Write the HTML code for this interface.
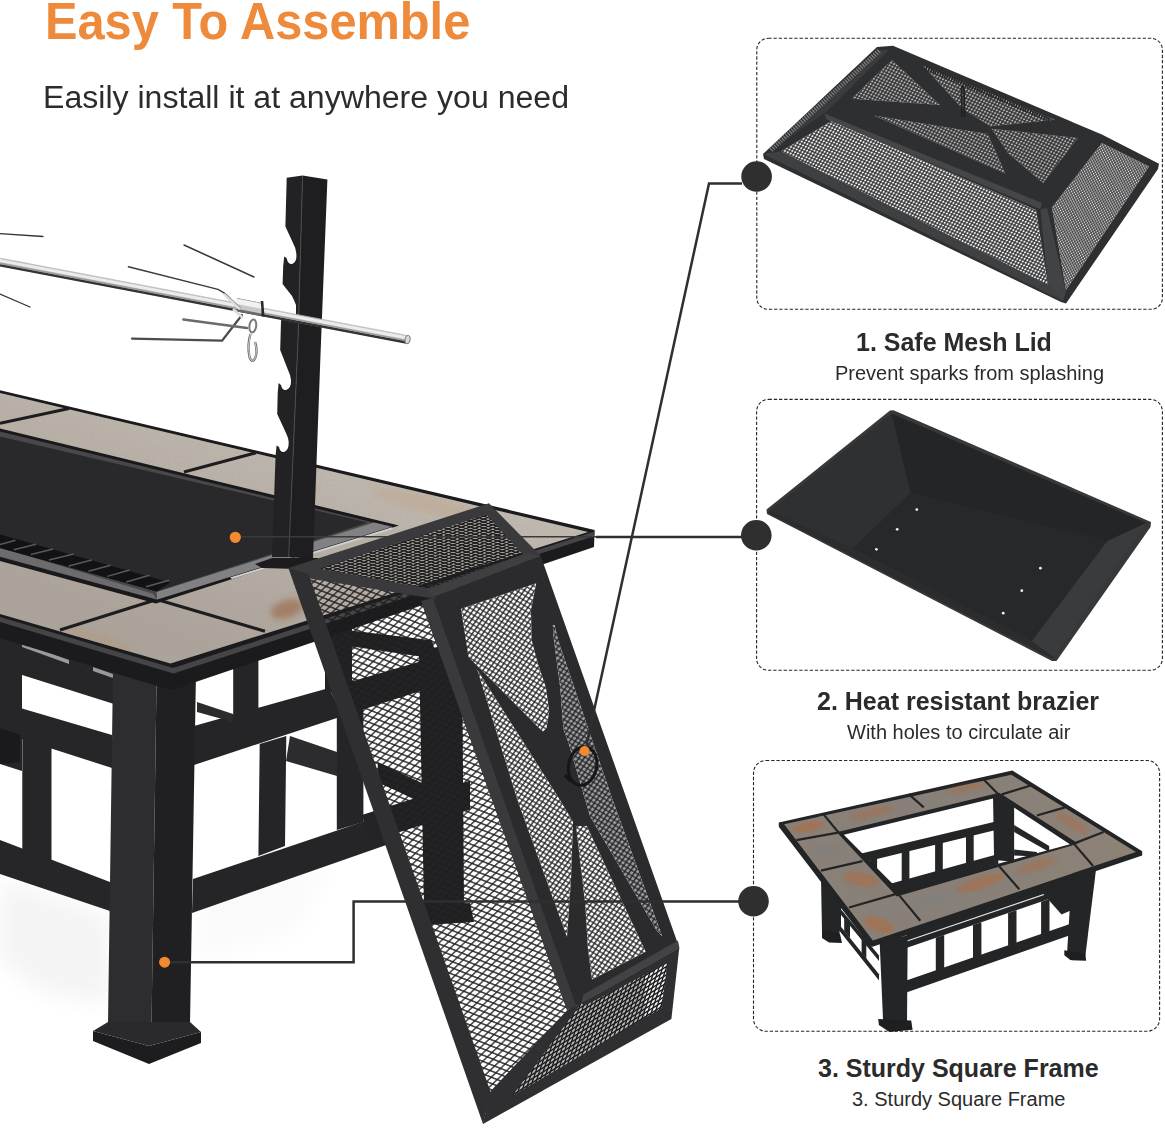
<!DOCTYPE html>
<html><head><meta charset="utf-8">
<style>
html,body{margin:0;padding:0;background:#fff;}
body{width:1165px;height:1129px;overflow:hidden;position:relative;font-family:"Liberation Sans",sans-serif;}
svg{position:absolute;left:0;top:0;}
.t{position:absolute;white-space:nowrap;line-height:1;}
#title{left:44.6px;top:-3.8px;font-size:51.3px;font-weight:bold;color:#ee8a3c;transform:scaleX(0.95);transform-origin:0 0;}
#sub{left:43px;top:81px;font-size:32.1px;color:#2c2c2c;}
.h{font-weight:bold;font-size:25px;color:#2b2b2b;}
.d{font-size:20px;color:#2b2b2b;}
</style></head><body>
<svg id="art" width="1165" height="1129" viewBox="0 0 1165 1129">
<!-- defs -->
<defs>
<linearGradient id="tileG" gradientUnits="userSpaceOnUse" x1="330" y1="400" x2="230" y2="660">
<stop offset="0" stop-color="#c4beb5"/><stop offset="0.45" stop-color="#b9b1a8"/><stop offset="1" stop-color="#aca49b"/>
</linearGradient>
<filter id="noise" x="0" y="0" width="100%" height="100%"><feTurbulence type="fractalNoise" baseFrequency="0.5" numOctaves="2" seed="3" result="n"/><feColorMatrix type="matrix" values="0 0 0 0 0.35  0 0 0 0 0.3  0 0 0 0 0.25  0.9 0 0 0 -0.35"/><feComposite in2="SourceGraphic" operator="in"/></filter>
<linearGradient id="tileT" x1="0" y1="0" x2="1" y2="0"><stop offset="0" stop-color="#8a8077"/><stop offset="0.5" stop-color="#878079"/><stop offset="1" stop-color="#8e8276"/></linearGradient>
<filter id="blur3" x="-30%" y="-30%" width="160%" height="160%"><feGaussianBlur stdDeviation="3"/></filter><filter id="blur12" x="-50%" y="-50%" width="200%" height="200%"><feGaussianBlur stdDeviation="12"/></filter><filter id="blur1" x="-30%" y="-30%" width="160%" height="160%"><feGaussianBlur stdDeviation="1.5"/></filter>
<pattern id="meshL" width="6.382" height="6.382" patternUnits="userSpaceOnUse" patternTransform="matrix(0.7250 -0.6887 0.9285 0.3714 0 0)"><path d="M0 0H6.382M0 6.382H6.382M0 0V6.382M6.382 0V6.382" stroke="#1e1e20" stroke-width="1.486" fill="none"/></pattern>
<pattern id="meshX" width="4.314" height="4.314" patternUnits="userSpaceOnUse" patternTransform="matrix(0.5812 -0.8137 0.8575 0.5145 0 0)"><path d="M0 0H4.314M0 4.314H4.314M0 0V4.314M4.314 0V4.314" stroke="#1e1e20" stroke-width="1.154" fill="none"/></pattern>
<pattern id="meshT" width="4.707" height="4.707" patternUnits="userSpaceOnUse" patternTransform="matrix(0.9409 -0.3387 0.9578 0.2873 0 0)"><path d="M0 0H4.707M0 4.707H4.707M0 0V4.707M4.707 0V4.707" stroke="#1e1e20" stroke-width="1.849" fill="none"/></pattern>
<pattern id="meshB" width="5.472" height="5.472" patternUnits="userSpaceOnUse" patternTransform="matrix(0.8499 -0.5269 0.3162 -0.9487 0 0)"><path d="M0 0H5.472M0 5.472H5.472M0 0V5.472M5.472 0V5.472" stroke="#1e1e20" stroke-width="2.111" fill="none"/></pattern>
<pattern id="meshS" width="3.129" height="3.129" patternUnits="userSpaceOnUse" patternTransform="matrix(0.5300 -0.8480 0.9119 0.4104 0 0)"><path d="M0 0H3.129M0 3.129H3.129M0 0V3.129M3.129 0V3.129" stroke="#262628" stroke-width="1.060" fill="none"/></pattern>
<pattern id="meshS2" width="2.325" height="2.325" patternUnits="userSpaceOnUse" patternTransform="matrix(0.8192 -0.5735 0.4472 0.8944 0 0)"><path d="M0 0H2.325M0 2.325H2.325M0 0V2.325M2.325 0V2.325" stroke="#262628" stroke-width="0.960" fill="none"/></pattern>
</defs>

<!-- table -->
<g id="table">
<!-- far-left skewer tines -->
<g stroke="#333" stroke-width="1.3" fill="none" stroke-linecap="round">
<path d="M0 233.6L43 236.5"/><path d="M0 294L30 307"/>
</g>
<g filter="url(#blur12)" opacity="0.045"><polygon points="0,880 110,915 110,1005 40,990 0,960" fill="#000"/><polygon points="196,900 330,860 300,930 196,960" fill="#000" opacity="0.5"/></g>
<!-- LEGS & LATTICE : left face -->
<g fill="#262628">
<polygon points="0,630 114,668 114,704 0,668"/>
<polygon points="0,702 112,735 112,768 0,732"/>
<polygon points="0,840 110,882 110,911 0,874"/>
<polygon points="0,640 22,647 22,771 0,764"/>
<polygon points="0,728 20,735 20,762 0,764" fill="#1a1a1c"/>
<polygon points="22.3,738 51.5,748 51.5,862 22.3,850"/>
</g>
<polygon points="22,643 69,660 69,664 22,647" fill="#9a9a9a"/>
<polygon points="93,667 113,674 113,678 93,671" fill="#9a9a9a"/>
<!-- right face lattice -->
<g fill="#252527">
<polygon points="194,726 329,688 343,716 194,765"/>
<polygon points="193,879 377,817 392,843 192,913"/>
<polygon points="233.2,660 258.4,652 258.4,712 233.2,718"/>
<polygon points="259.7,744 286.3,736 285,846 258.4,856"/>
<polygon points="336.8,716 363.4,708 363.4,822 336.8,830"/>
<polygon points="197,702 233,714 233,722 197,712" fill="#2c2c2e"/>
<polygon points="290,736 337,752 337,776 286,761" fill="#2c2c2e"/>
</g>
<!-- seen through lid -->
<g fill="#232325">
<polygon points="329,688 470,647 470,675 343,716"/>
<polygon points="361.8,815 470,780.7 470,809.6 369.7,841.7"/>
<polygon points="419,652 462,640 464,905 424,905"/>
<polygon points="418,905 470,903 474,922 426,925"/>
<polygon points="330,628 432,640.3 437,659 352,646.5 330,643"/>
<polygon points="325,628 352,620 352,686 325,693"/>
<polygon points="377.7,762 428.2,786 428.2,806 377.7,782"/>
</g>
<!-- front leg -->
<polygon points="113,670 156.5,684 151.5,1026 108,1024" fill="#2d2d2f"/>
<polygon points="156.5,684 196,672 190,1024 151.5,1026" fill="#202022"/>
<polygon points="93,1031 149,1046 201,1032 201,1043 149,1064 93,1041" fill="#1d1d1f"/>
<polygon points="93,1031 108,1022 190,1022 201,1032 149,1046" fill="#2a2a2c"/>
<!-- TABLE TOP rim -->
<polygon points="0,390.3 594.6,530 594,547 175,689 170,690 0,638" fill="#1b1b1d"/>
<polygon points="0,617 173,668 594.6,531.5 594.4,536 173.5,673.5 0,622" fill="#454547"/>
<!-- tile surface -->
<polygon points="0,392.9 588,532 170.5,663.5 0,614" fill="url(#tileG)"/>
<polygon points="0,392.9 588,532 170.5,663.5 0,614" fill="#000" filter="url(#noise)" opacity="0.5"/>
<!-- rust patches -->
<clipPath id="tileClip"><polygon points="0,392.9 588,532 170.5,663.5 0,614"/></clipPath>
<g clip-path="url(#tileClip)"><g filter="url(#blur3)"><ellipse cx="287" cy="609" rx="17" ry="9" fill="#9a6a48" opacity="0.65" transform="rotate(-18 287 609)"/>
<ellipse cx="95" cy="640" rx="40" ry="8" fill="#b09a86" opacity="0.6" transform="rotate(17 95 640)"/>
<ellipse cx="430" cy="505" rx="60" ry="9" fill="#c2a58c" opacity="0.45" transform="rotate(14 430 505)"/></g></g>
<!-- tile gaps -->
<g stroke="#1d1d1f" stroke-width="3.2" fill="none">
<path d="M69 408.5L0 423.3"/>
<path d="M256 452.8L184 472"/>
<path d="M152 601L60 630"/>
<path d="M157 599.5L265 631.3"/>
</g>
<!-- pit -->
<polygon points="0,428.5 399,525.5 156,603.5 0,561" fill="#19191b"/>
<polygon points="0,431.5 390,526.5 157,599.5 0,557" fill="#48484a"/>
<polygon points="157,599.5 392,526.8 374,522.5 156.6,592" fill="#818183"/>
<polygon points="230,577.5 392,527.2 393,529 232,579" fill="#d0d0d0"/>
<polygon points="0,547.5 153,593.8 157,599.5 0,556.5" fill="#6c6c6e"/>
<polygon points="0,436.5 367.6,522.5 156.6,591.5 0,548" fill="#29292b"/>
<!-- grate -->
<polygon points="0,534.5 170,582.5 156.6,591.5 0,548" fill="#121214"/>
<g stroke="#5a5a5c" stroke-width="1.5" fill="none">
<path d="M15.5 540.3L0 544.6M36 544.3L13.7 549.8M53.2 548.9L30.9 554.6M73.8 554L48.9 560M91.8 560L68.7 566M110.7 565.2L88.4 571.2M129.6 570L107.3 576.4M149.4 575.2L126.2 582M169.1 580.3L145.9 586.7"/>
</g>
</g>

<!-- post -->
<g id="post">
<!-- base plate -->
<polygon points="255,564 272,558 318,558 320,562 297,569 262,568" fill="#1c1c1e"/>
<!-- side plate with hooks -->
<path d="M286.7 177.7 L302.6 175.6 L298 340 L288.7 557 L272 557
L275.6 455 L276.6 445.5 L279 447 Q280 452.5 284 452 Q289 450 288.7 442 Q288.5 438 286 433 L277.2 414 L277.7 393 L278.6 383 L281 385 Q282 390.5 286 390 Q291.5 388 291 380 Q290.5 375 288 370
L280.2 350 L281 322 L282 313 L284.5 315 Q285.5 320 289 320 L296 320 L296 305 Q294 300 292 296 L282.6 284 L283.2 266 L284.2 256.5 L286.5 258 Q288 264.5 292 264 Q297 262 296.4 254 Q296 248 293 243 L285.4 226.4 Z" fill="#222224"/>
<!-- front face -->
<polygon points="302.6,175.6 327.4,179.5 320.3,360 313,559 288.7,557 298,340" fill="#1e1e20"/>
<path d="M302.6 176 L298 340 L288.7 557" stroke="#4a4a4c" stroke-width="1" fill="none"/>
</g>
<g id="rod">
<!-- fork tines -->
<g stroke="#3a3a3a" stroke-width="1.4" fill="none" stroke-linecap="round" stroke-linejoin="round">
<path d="M184 245L254 277"/>
<path d="M128.4 266.8L218 289.4Q228 294 234 305"/>
<path d="M132 338.6L222 340.7L242 315" stroke="#4c4c4c" stroke-width="2.2"/>
</g>
<path d="M183.4 319.5L247 328" stroke="#6a6a6a" stroke-width="2.6" fill="none" stroke-linecap="round"/>
<!-- rod -->
<path d="M0 262.2L407.6 339.6" stroke="#c6c6c6" stroke-width="8" fill="none"/>
<path d="M0 265.3L407.6 342.7" stroke="#333" stroke-width="2.4" fill="none"/>
<path d="M0 263.4L407.6 340.8" stroke="#9c9c9c" stroke-width="1.6" fill="none"/>
<path d="M0 260.6L407.6 338" stroke="#ececec" stroke-width="2.8" fill="none"/>
<path d="M0 258.1L407.6 335.5" stroke="#b5b5b5" stroke-width="0.7" fill="none"/>
<ellipse cx="407.6" cy="339.6" rx="2.6" ry="4.3" fill="#d8d8d8" stroke="#777" stroke-width="0.9" transform="rotate(10 407.6 339.6)"/>
<!-- collar -->
<path d="M236 304.5L262 309.6" stroke="#6a6a6a" stroke-width="13" fill="none"/>
<path d="M236 303.3L262 308.4" stroke="#c8c8c8" stroke-width="10.5" fill="none"/>
<path d="M236 301.3L262 306.4" stroke="#f2f2f2" stroke-width="5" fill="none"/>
<path d="M262 301L263.2 316.5" stroke="#2a2a2a" stroke-width="2.6" fill="none"/>
<path d="M224 294L240 309M243 318L233 309" stroke="#dcdcdc" stroke-width="2.6" fill="none"/>
<path d="M224 294L240 309" stroke="#777" stroke-width="0.8" fill="none" transform="translate(0.8 -1.2)"/>
<!-- hook -->
<g fill="none">
<ellipse cx="252.8" cy="326" rx="3.4" ry="6.5" stroke="#7a7a7a" stroke-width="2" transform="rotate(8 252.8 326)"/>
<path d="M250.5 334Q247 345 249.5 357Q252.5 365 255.8 356.5Q257.5 349 255 342" stroke="#6e6e6e" stroke-width="2.4"/>
<path d="M250.5 334Q247 345 249.5 357Q252.5 365 255.8 356.5Q257.5 349 255 342" stroke="#d8d8d8" stroke-width="0.9"/>
</g>
</g>

<!-- lid -->
<g id="lid">
<!-- left panel mesh -->
<polygon points="300,572 436,600 576,1006 488,1112" fill="url(#meshL)"/>
<!-- top panel mesh -->
<polygon points="313.6,568.8 487.2,513.4 525.2,554.2 428.9,589.2" fill="#222224" opacity="0.18"/>
<polygon points="313.6,568.8 487.2,513.4 525.2,554.2 428.9,589.2" fill="url(#meshT)"/>
<!-- bottom trapezoid mesh -->
<polygon points="502,1104 578,1004 645,975 645,1021" fill="#2a2a2c" opacity="0.3"/>
<polygon points="502,1104 578,1004 669,962 664,1009" fill="url(#meshB)"/>
<!-- X panel solid -->
<polygon points="421,601 433.8,597 540.8,556.1 679.3,947.7 581.5,1003 567.1,1010.3" fill="#2b2b2d"/>
<polygon points="581.5,1003 679.3,947.7 678,940.5 583.5,994.5" fill="#434345"/>
<!-- X panel openings -->
<g fill="#fff">
<polygon id="o1" points="461,608.7 536.2,583.2 531,610 531.6,640 538,664 546,687.8 549.2,711.7 546.5,728 543,731.5 538,727 468.5,657"/>
<polygon id="o2" points="476.6,668.7 528.4,750 560,800 573,822 571,880 567,937 517.4,800 478,672"/>
<polygon id="o3" points="552.8,625.3 554.5,625 558,640 588.4,729.3 612.6,800 662,936 657,931 590,816 568.3,742 563.5,729.3 560.3,687.8 554,640"/>
<polygon id="o4" points="576,826 586.8,826 645.7,951.8 592,979.5 588,950 585.2,904"/>
</g>
<use href="#o3" fill="#9a9a9c"/>
<g fill="url(#meshX)">
<use href="#o1"/><use href="#o2"/><use href="#o3"/><use href="#o4"/>
</g>
<!-- FRAME -->
<g fill="#3a3a3c">
<!-- top panel bars -->
<polygon points="288.4,568 489,503.2 488,514 314,570.5"/>
<polygon points="489,503.2 540.8,556.1 528,560 483,511"/>
<!-- TL-NL bar -->
<polygon points="288.4,568 314,567.5 429,588.5 436,599 312,579"/>
<polygon points="427,589.5 525,553.5 540.8,556.1 433.8,597" fill="#3f3f41"/>
</g>
<g fill="#2f2f31">
<!-- left bar -->
<polygon points="288.4,568 308.5,574 491,1093 483,1124"/>
<!-- bottom rim bars -->
<polygon points="483,1124 671.4,1019 665,1006 507,1099 492,1090"/>
<polygon points="679.3,947.7 671.4,1019 661,1012 668,958"/>
<polygon points="567.1,1010.3 581.5,1003 508.4,1101 483,1124 490.9,1090.7"/>
<polygon points="581.5,1003 679.3,947.7 670,962 584,1006"/>
</g>
<polygon points="421,601 433,598.2 576,1005.8 567.1,1010.3" fill="#3a3a3c"/>
<!-- ring handle -->
<ellipse cx="582.6" cy="766" rx="14" ry="19.5" fill="none" stroke="#161618" stroke-width="3" transform="rotate(12 582.6 766)"/>
<path d="M565 775L571 781" stroke="#161618" stroke-width="3.5" fill="none"/>
</g>

<!-- thumb1 -->
<g fill="none" stroke="#262626" stroke-width="1.1" stroke-dasharray="3.3 1.9">
<rect x="756.8" y="38.3" width="405.6" height="271" rx="11.5"/>
<rect x="756.6" y="399.4" width="405.8" height="270.9" rx="12"/>
<rect x="753.5" y="760.5" width="406.1" height="270.8" rx="12.5"/>
</g>
<g id="thumb1">
<!-- silhouette/frame -->
<polygon points="763,153.9 877,47 893,45.7 1101.9,134.6 1159,163.7 1158,169 1066,303.5 1061,302 764,159" fill="#2e2f31"/>
<!-- left sliver slats -->
<polygon points="768,152 877,50 889,50 826,112" fill="#3a3b3d"/>
<path d="M771 150L880 50" stroke="#8a8a8a" stroke-width="5" stroke-dasharray="1 1.6" fill="none"/>
<!-- front panel mesh -->
<g fill="#f6f6f6"><polygon id="t1f" points="781,151.5 831.5,121 1036,210 1048,285"/></g>
<g fill="url(#meshS)"><use href="#t1f"/></g>
<!-- right panel mesh -->
<g fill="#f6f6f6"><polygon id="t1r" points="1052,207.5 1101.9,143 1149,166.5 1066,290"/></g>
<g fill="url(#meshS2)"><use href="#t1r"/></g>
<!-- top openings -->
<g fill="#b4b4b4">
<polygon id="t1a" points="851.7,98.7 891.9,60.1 940,104.9"/>
<polygon id="t1b" points="923.3,65.8 1054.7,119.8 990.3,126.3 962,108.2"/>
<polygon id="t1c" points="873.9,115.5 987.7,134 1005.2,173.4"/>
<polygon id="t1d" points="991.6,128.8 1077.8,137.9 1043.1,182.9 1008.3,153.3"/>
</g>
<g fill="url(#meshS)"><use href="#t1a"/><use href="#t1b"/><use href="#t1c"/><use href="#t1d"/></g>
<!-- back slats strip -->
<path d="M926 68L1050 120" stroke="#222" stroke-width="4.5" stroke-dasharray="1.3 1.2" fill="none"/>
<!-- front bar highlight -->
<polygon points="824.5,113.5 1042,203 1040,209 826,119" fill="#454648"/>
<polygon points="763,154 781,151.5 1048,285 1063,301" fill="#3f4042"/>
<polygon points="1040.4,209.5 1047,208 1066,292 1063,301 1048,285" fill="#424345"/>
<!-- handle -->
<path d="M962 117L961.5 90Q962 82 964 90L964.5 117" stroke="#222" stroke-width="1.8" fill="none"/>
</g>

<!-- thumb2 -->
<g id="thumb2">
<polygon points="766.5,509.6 890,410.4 893.5,410.2 1151,521.9 1150.5,527 1056.5,661 1052,661 767,514" fill="#37383a"/>
<!-- left wall -->
<polygon points="769.5,510.5 891.5,413.5 910.5,493.1 852.6,548.2" fill="#2f3032"/>
<!-- back wall -->
<polygon points="891.5,413.5 1146.5,523 1107.1,541.2 910.5,493.1" fill="#242527"/>
<!-- right wall -->
<polygon points="1146.5,523 1054,657 1031.6,641.3 1107.1,541.2" fill="#3a3b3d"/>
<!-- floor -->
<polygon points="852.6,548.2 910.5,493.1 1107.1,541.2 1031.6,641.3" fill="#27282a"/>
<!-- front wall top -->
<polygon points="769.5,510.5 852.6,548.2 1031.6,641.3 1054,657 1052,658.5 768,513" fill="#2b2c2e"/>
<g fill="#f0f0f0">
<circle cx="916.8" cy="509.6" r="1.4"/><circle cx="897.2" cy="529.3" r="1.4"/><circle cx="876.4" cy="549.3" r="1.4"/>
<circle cx="1040.4" cy="568.2" r="1.4"/><circle cx="1021.8" cy="590.7" r="1.4"/><circle cx="1003.2" cy="613.2" r="1.4"/>
</g>
</g>

<!-- thumb3 -->
<g id="thumb3">
<polygon points="993.0,795.1 1014.1,799.3 1014.1,861.8 994.1,860.1" fill="#242527"/>
<polygon points="861.3,853.4 994.8,821.8 994.8,830.2 865.6,861.8" fill="#242527"/>
<polygon points="891.2,883.6 998.3,854.1 998.3,863.9 893.6,893.4" fill="#242527"/>
<polygon points="901.7,850.5 909.4,848.7 909.4,890.4 901.7,892.6" fill="#242527"/>
<polygon points="935.1,842.6 942.8,840.8 942.8,881.0 935.1,883.2" fill="#242527"/>
<polygon points="966.0,835.2 973.7,833.5 973.7,872.3 966.0,874.4" fill="#242527"/>
<polygon points="870.1,858.3 877.1,856.9 877.1,875.9 870.1,868.8" fill="#242527"/>
<polygon points="1014.1,825.0 1049.2,846.0 1049.2,852.0 1014.1,832.0" fill="#242527"/>
<polygon points="1014.1,849.5 1036.9,852.0 1036.9,856.6 1014.1,855.5" fill="#242527"/>
<polygon points="821.0,878.0 839.6,886.0 839.6,935.0 822.0,932.0" fill="#242527"/>
<polygon points="822.0,930.0 840.0,934.0 842.0,943.0 829.0,942.5 822.0,938.0" fill="#1e1f21"/>
<polygon points="830.8,897.1 879.0,955.6 879.0,961.0 830.8,902.5" fill="#242527"/>
<polygon points="830.8,913.9 879.0,974.2 879.0,980.5 830.8,920.0" fill="#242527"/>
<polygon points="844.2,915.0 850.0,922.0 850.0,938.0 844.2,931.0" fill="#242527"/>
<polygon points="861.6,936.0 866.3,942.0 866.3,959.0 861.6,953.0" fill="#242527"/>
<polygon points="836.0,895.0 841.0,901.0 841.0,930.0 836.0,924.0" fill="#242527"/>
<polygon points="1072.0,872.4 1095.9,870.6 1085.4,955.2 1067.1,952.4" fill="#242527"/>
<polygon points="1064.3,950.3 1085.4,953.8 1086.1,960.8 1070.3,960.1 1064.3,955.2" fill="#1e1f21"/>
<polygon points="906.3,932.8 1073.8,876.6 1073.8,890.6 906.3,947.9" fill="#242527"/>
<path d="M906.3 941.2L1073.8 884.3" stroke="#e8e8e8" stroke-width="1.1" fill="none"/>
<polygon points="906.3,980.5 1069.2,924.3 1069.2,935.6 906.3,992.4" fill="#242527"/>
<polygon points="935.8,937.8 944.2,935.0 944.2,971.1 935.8,973.9" fill="#242527"/>
<polygon points="973.0,925.0 981.4,922.2 981.4,958.4 973.0,961.2" fill="#242527"/>
<polygon points="1008.1,913.0 1016.5,910.2 1016.5,946.4 1008.1,949.2" fill="#242527"/>
<polygon points="1041.1,901.7 1049.5,898.9 1049.5,935.1 1041.1,937.9" fill="#242527"/>
<polygon points="1036.9,886.4 1073.8,881.1 1077.3,907.5 1061.5,914.5" fill="#242527"/>
<polygon points="879.6,940.8 907.7,935.6 907.0,1021.6 883.1,1021.6" fill="#242527"/>
<polygon points="878.2,1019.1 911.2,1020.5 912.6,1029.7 889.4,1032.1 878.9,1025.1" fill="#1e1f21"/>
<path d="M778.8 822.5 L1012.3 770.5 L1142.2 851.3 L1142.2 855.5 L872.6 946.8 L870.1 946.1 L778.8 826.7Z M843.8 834.8 L998.3 797.2 L1069.9 844.3 L899.3 890.6Z" fill="#232426" fill-rule="evenodd"/>
<path d="M784.1 824.3 L1011.3 774.7 L1135.9 852.0 L872.9 940.5Z M836.8 832.3 L999.3 792.7 L1078.3 843.6 L896.8 896.6Z" fill="url(#tileT)" fill-rule="evenodd"/>
<g filter="url(#blur1)"><ellipse cx="808.7" cy="826.7" rx="16" ry="4.5" fill="#b06a3c" opacity="0.6" transform="rotate(-12 808.7 826.7)"/>
<ellipse cx="871.9" cy="812.7" rx="22" ry="4.5" fill="#b06a3c" opacity="0.4" transform="rotate(-12 871.9 812.7)"/>
<ellipse cx="861.3" cy="879.4" rx="18" ry="7" fill="#b06a3c" opacity="0.5" transform="rotate(10 861.3 879.4)"/>
<ellipse cx="878.9" cy="925.0" rx="16" ry="7" fill="#b06a3c" opacity="0.55" transform="rotate(20 878.9 925.0)"/>
<ellipse cx="980.7" cy="882.9" rx="26" ry="6" fill="#b06a3c" opacity="0.5" transform="rotate(-18 980.7 882.9)"/>
<ellipse cx="1036.9" cy="865.3" rx="20" ry="5" fill="#b06a3c" opacity="0.4" transform="rotate(-18 1036.9 865.3)"/>
<ellipse cx="1072.0" cy="823.2" rx="18" ry="5" fill="#b06a3c" opacity="0.4" transform="rotate(30 1072.0 823.2)"/>
<ellipse cx="966.7" cy="788.1" rx="20" ry="4" fill="#b06a3c" opacity="0.4" transform="rotate(-12 966.7 788.1)"/>
<ellipse cx="826.2" cy="851.3" rx="16" ry="5" fill="#7d7f80" opacity="0.5" transform="rotate(0 826.2 851.3)"/>
<ellipse cx="931.6" cy="900.4" rx="20" ry="5" fill="#7d7f80" opacity="0.4" transform="rotate(-15 931.6 900.4)"/>
</g>
<path d="M822.7 813.4L838.9 833.0 M908.7 794.1L923.8 807.4 M982.5 778.3L999.0 795.1 M1031.6 785.3L1001.8 794.4 M1065.0 807.4L1036.9 815.5 M1103.6 832.0L1073.8 843.6 M1073.8 843.6L1093.1 866.0 M998.3 865.3L1019.3 889.2 M898.2 894.1L920.3 920.8 M796.4 840.1L839.6 832.3 M821.0 870.6L862.4 861.1 M849.0 907.5L898.2 893.4" stroke="#232426" stroke-width="2.2" fill="none"/>
</g>

<!-- callouts -->
<g fill="none" stroke="#2f2f2f" stroke-width="2.5" stroke-linejoin="miter">
<path d="M742 183.4H709L586.5 745"/>
<path d="M742 537H596"/>
<path d="M596 536.7H242" stroke-width="1.6" stroke="#3a3a3a"/>
<path d="M740 901.4H353.6V962.2H170"/>
</g>
<g fill="#2f2f2f">
<circle cx="756.6" cy="176.5" r="15.3"/>
<circle cx="756.3" cy="535.3" r="15.3"/>
<circle cx="753.5" cy="901.2" r="15.3"/>
</g>
<g fill="#f28a2e">
<circle cx="235.3" cy="537.3" r="5.6"/>
<circle cx="584.6" cy="751" r="5"/>
<circle cx="164.6" cy="962.2" r="5.5"/>
</g>


</svg>
<div class="t" id="title">Easy To Assemble</div>
<div class="t" id="sub">Easily install it at anywhere you need</div>
<div class="t h" style="left:856px;top:330px;">1. Safe Mesh Lid</div>
<div class="t d" style="left:835px;top:363px;">Prevent sparks from splashing</div>
<div class="t h" style="left:817px;top:688.5px;">2. Heat resistant brazier</div>
<div class="t d" style="left:847px;top:721.5px;">With holes to circulate air</div>
<div class="t h" style="left:818px;top:1055.5px;">3. Sturdy Square Frame</div>
<div class="t d" style="left:852px;top:1088.5px;">3. Sturdy Square Frame</div>
</body></html>
